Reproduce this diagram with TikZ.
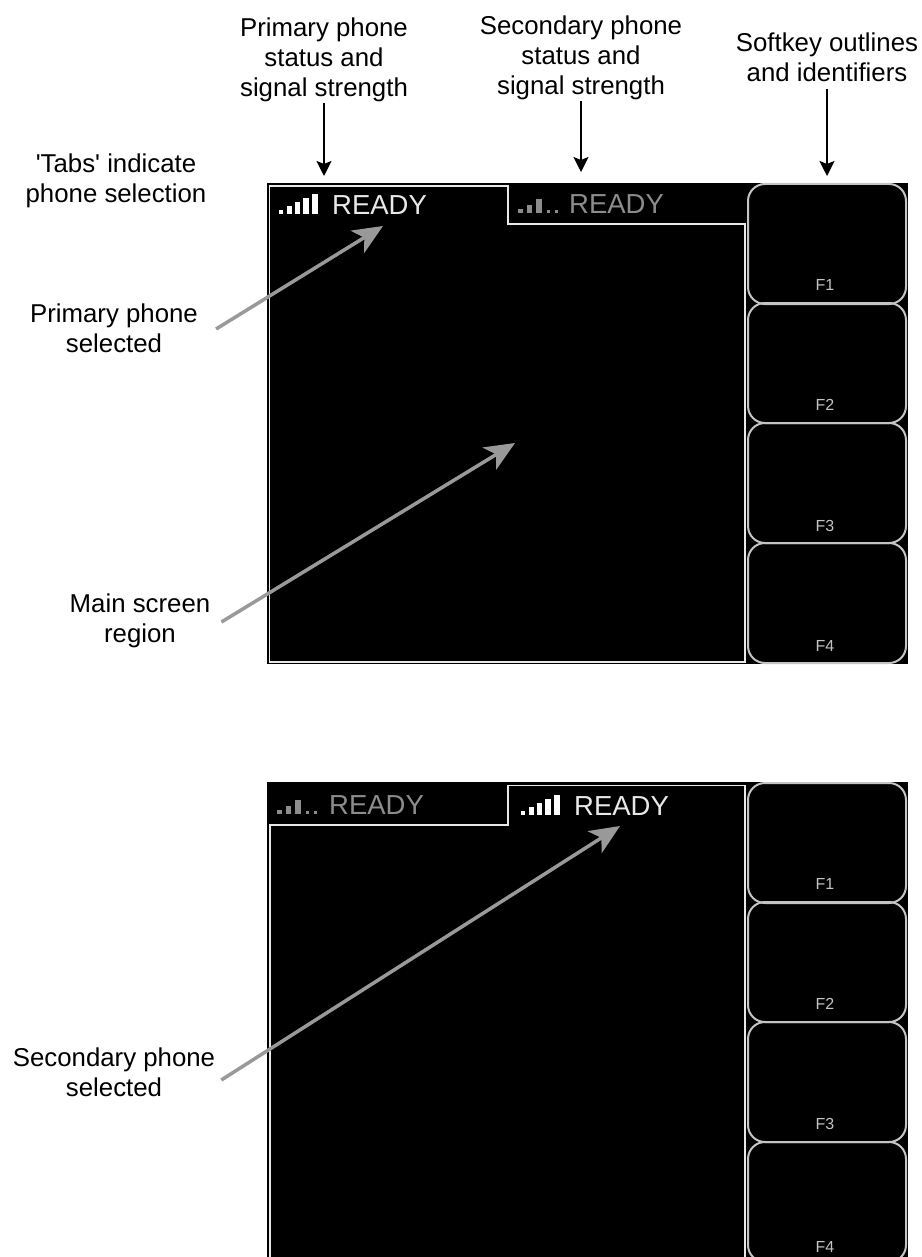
\documentclass[tikz,border=0pt]{standalone}
\usepackage{fontspec}
\setmainfont{Liberation Sans}
\newfontfamily\capfont{Liberation Sans}
\usepackage{tikz}
\usetikzlibrary{calc,arrows.meta}
\definecolor{tabline}{HTML}{E8E8E8}
\definecolor{keyline}{HTML}{C4C4C4}
\definecolor{dimtext}{HTML}{8C8C8C}
\definecolor{pointer}{HTML}{999999}
\newcommand{\fullbars}[3]{%
	\foreach \bx/\bw/\bh in {0/4/4,8/5/8,16/5/12,24/6/16,33/6/20}
		\fill[#3] (#1+\bx,#2) rectangle ++(\bw,-\bh);
}
\newcommand{\weakbars}[3]{%
	\foreach \bx/\bw/\bh in {0/5/4,9/5/8,18/6/14,29/3/3,37/3/3}
		\fill[#3] (#1+\bx,#2) rectangle ++(\bw,-\bh);
}
\tikzset{
	caption/.style={align=center,inner sep=1pt,font=\capfont\fontsize{25.8}{29.7}\selectfont},
	ready/.style={inner sep=0pt,font=\fontsize{27.5}{27.5}\selectfont},
	fkey/.style={inner sep=0pt,text=keyline,font=\fontsize{16}{16}\selectfont},
	softkey/.style={draw=keyline,line width=2pt,rounded corners=17pt},
	tabedge/.style={draw=tabline,line width=1.8pt},
	blackarrow/.style={line width=2pt,-{Stealth[length=15pt,width=15pt,inset=3pt]}},
	greyarrow/.style={draw=pointer,line width=3.5pt,-{Stealth[length=30pt,width=26pt,inset=8pt]}}
}
\begin{document}
\begin{tikzpicture}[x=1pt,y=-1pt]
	\useasboundingbox (0,0) rectangle (921,1257);
	% screens
	\fill[black] (267,183) rectangle (908,664);
	\fill[black] (267,782) rectangle (908,1257);
	% first screen
	\draw[tabedge] (269.5,662) -- (269.5,186) -- (508,186) -- (508,224) -- (745,224) -- (745,662) -- cycle;
	\fullbars{279}{214}{white}
	\weakbars{518}{213}{dimtext}
	\node[ready,text=tabline,anchor=west] (readya) at (332,205) {READY};
	\node[ready,text=dimtext,anchor=west] (readyb) at (569,204) {READY};
	\foreach \n/\ytop in {1/184,2/303,3/423,4/543}{
		\draw[softkey] (748,\ytop) rectangle (906,\ytop+120);
	}
	\foreach \n/\ylab in {1/285,2/405,3/526,4/646}{
		\node[fkey] (fa\n) at (825,\ylab) {F\n};
	}
	% second screen
	\begin{scope}
		\clip (0,0) rectangle (921,1257);
		\draw[tabedge] (270,1262) -- (270,825) -- (508,825) -- (508,785.5) -- (745,785.5) -- (745,1262);
		\foreach \n/\ytop in {1/783,2/902,3/1022,4/1142}{
			\draw[softkey] (748,\ytop) rectangle (906,\ytop+120);
		}
	\end{scope}
	\foreach \n/\ylab in {1/884,2/1004,3/1124,4/1247}{
		\node[fkey] (fb\n) at (825,\ylab) {F\n};
	}
	\weakbars{277}{814}{dimtext}
	\fullbars{521}{815}{white}
	\node[ready,text=dimtext,anchor=west] (readyc) at (329,805) {READY};
	\node[ready,text=tabline,anchor=west] (readyd) at (574,806) {READY};
	% captions
	\node[caption] (primary) at (324,60) {Primary phone\\status and\\signal strength};
	\node[caption] (secondary) at (581,58) {Secondary phone\\status and\\signal strength};
	\node[caption] (softkeys) at (827,57.5) {Softkey outlines\\and identifiers};
	\node[caption] (tabs) at (116,181) {'Tabs' indicate\\phone selection};
	\node[caption] (primsel) at (114,328) {Primary phone\\selected};
	\node[caption] (mainreg) at (140,621) {Main screen\\region};
	\node[caption] (secsel) at (114,1072.5) {Secondary phone\\selected};
	% arrow ends
	\coordinate (A) at (324,176);
	\coordinate (B) at (581,172);
	\coordinate (C) at (827,176);
	\coordinate (D) at (383,226);
	\coordinate (E) at (515,443);
	\coordinate (F) at (620,826);
	\draw[blackarrow] (primary.south) -- (A);
	\draw[blackarrow] (secondary.south) -- (B);
	\draw[blackarrow] (softkeys.south) ++(0,6) -- (C);
	\draw[greyarrow] ($(primsel.east)+(17,1)$) -- (D);
	\draw[greyarrow] ($(mainreg.east)+(10,1)$) -- (E);
	\draw[greyarrow] ($(secsel.east)+(5,7.5)$) -- (F);
\end{tikzpicture}
\end{document}
